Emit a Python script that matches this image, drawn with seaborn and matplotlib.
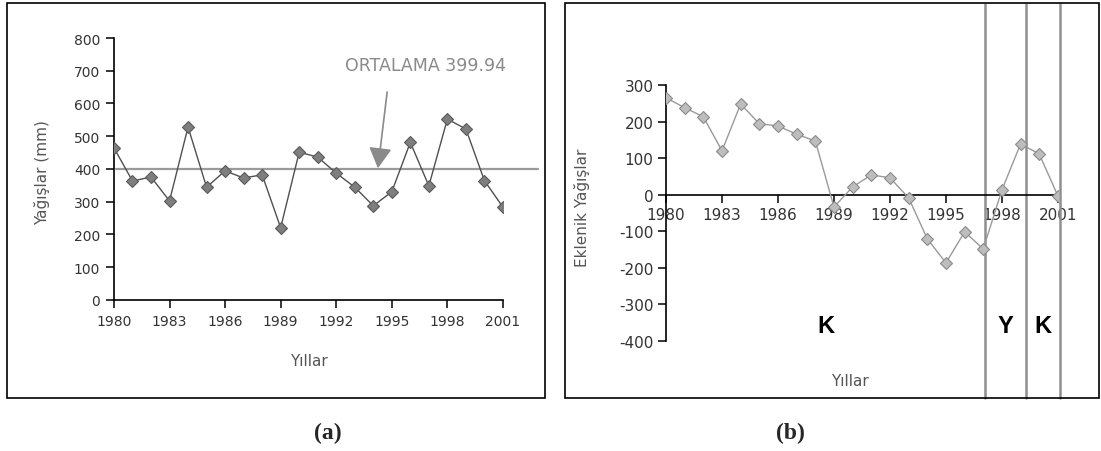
import numpy as np
import pandas as pd
import matplotlib
matplotlib.use("Agg")
import matplotlib.pyplot as plt
from matplotlib.patches import Rectangle
from matplotlib.transforms import blended_transform_factory
import seaborn as sns

# Annual precipitation (mm) and cumulative precipitation departures
years = list(range(1980, 2002))
rainfall = [464, 363, 375, 302, 528, 344, 394, 372, 382, 220, 451,
            436, 387, 344, 287, 330, 481, 348, 552, 522, 364, 283]
cumulative = [265, 238, 213, 120, 248, 194, 188, 165, 147, -34, 21,
              54, 46, -9, -121, -187, -102, -149, 13, 139, 111, -4]
mean_rainfall = 399.94
mean_label = "ORTALAMA 399.94"

xticks = [1980, 1983, 1986, 1989, 1992, 1995, 1998, 2001]
yticks_a = list(range(0, 801, 100))
yticks_b = list(range(-400, 301, 100))

# Dry (K) / wet (Y) periods and their boundaries
period_edges = [1980, 1997.1, 1999.3, 2001.1]
period_names = ["K", "Y", "K"]

sns.set_style("white")
plt.rcParams["font.family"] = ["DejaVu Sans"]
plt.rcParams["axes.unicode_minus"] = False

df = pd.DataFrame({"Yil": years, "Yagis": rainfall, "Eklenik": cumulative})

fig = plt.figure(figsize=(11.01, 4.52), dpi=100)

# Panel frames
for x0, w in [(0.00636, 0.4886), (0.5132, 0.4850)]:
    fig.add_artist(Rectangle((x0, 0.1173), w, 0.8739, transform=fig.transFigure,
                             fill=False, ec="black", lw=1.2))

# ---------------- (a) annual precipitation ----------------
ax1 = fig.add_axes([0.1035, 0.3347, 0.3533, 0.579])
ax1.axhline(mean_rainfall, xmin=0.005, xmax=1.09, color="#9a9a9a", lw=1.6,
            clip_on=False, zorder=1)
sns.lineplot(data=df, x="Yil", y="Yagis", ax=ax1, color="#505050", lw=1.0,
             marker="D", markersize=6, markerfacecolor="#7e7e7e",
             markeredgecolor="#5a5a5a", markeredgewidth=0.8, zorder=3)
ax1.set_xlim(1980, 2001)
ax1.set_ylim(0, 800)
ax1.set_xticks(xticks)
ax1.set_yticks(yticks_a)
for s in ["top", "right"]:
    ax1.spines[s].set_visible(False)
for s in ["left", "bottom"]:
    ax1.spines[s].set_color("black")
    ax1.spines[s].set_linewidth(1.2)
ax1.tick_params(axis="both", direction="out", length=6, width=1.1,
                color="black", labelsize=10, labelcolor="#333333",
                left=True, bottom=True, pad=4)
ax1.set_xlabel("Yıllar", fontsize=11, color="#555555")
ax1.set_ylabel("Yağışlar (mm)", fontsize=11, color="#555555")
ax1.xaxis.set_label_coords(0.5, -0.205)
ax1.yaxis.set_label_coords(-0.165, 0.49)

ax1.text(1992.5, 718, mean_label, fontsize=12.5, color="#8a8a8a",
         ha="left", va="center")
ax1.annotate("", xy=(1994.25, mean_rainfall + 2), xytext=(1994.75, 635),
             arrowprops=dict(arrowstyle="-|>,head_width=0.5,head_length=0.9",
                             color="#8a8a8a", lw=1.2, mutation_scale=14,
                             shrinkA=0, shrinkB=0))

# ---------------- (b) cumulative departures ----------------
ax2 = fig.add_axes([0.6049, 0.244, 0.356, 0.5657])
sns.lineplot(data=df, x="Yil", y="Eklenik", ax=ax2, color="#9a9a9a", lw=1.0,
             marker="D", markersize=6, markerfacecolor="#bdbdbd",
             markeredgecolor="#8a8a8a", markeredgewidth=0.8, zorder=3)
ax2.set_xlim(1980, 2001)
ax2.set_ylim(-400, 300)
ax2.set_xticks(xticks)
ax2.set_yticks(yticks_b)
for s in ["top", "right"]:
    ax2.spines[s].set_visible(False)
ax2.spines["bottom"].set_position(("data", 0))
for s in ["left", "bottom"]:
    ax2.spines[s].set_color("black")
    ax2.spines[s].set_linewidth(1.2)
ax2.tick_params(axis="both", direction="out", length=6, width=1.1,
                color="black", labelsize=11, labelcolor="#333333",
                left=True, bottom=True, pad=3)
ax2.set_xlabel("Yıllar", fontsize=11, color="#555555")
ax2.set_ylabel("Eklenik Yağışlar", fontsize=11, color="#555555")
ax2.xaxis.set_label_coords(0.469, -0.126)
ax2.yaxis.set_label_coords(-0.194, 0.523)

# Period boundaries spanning the whole frame
trans = blended_transform_factory(ax2.transData, fig.transFigure)
for xb in period_edges[1:]:
    ax2.plot([xb, xb], [0.1173, 0.9889], transform=trans, color="#8f8f8f",
             lw=1.8, clip_on=False, zorder=2)
for (a, b), name in zip(zip(period_edges[:-1], period_edges[1:]), period_names):
    ax2.text((a + b) / 2, -357, name, fontsize=17, fontweight="bold",
             family="Liberation Sans", ha="center", va="center", color="black")

# Panel captions
fig.text(328 / 1101, 1 - 433 / 452, "(a)", fontsize=17, fontweight="bold",
         family="Liberation Serif", ha="center", va="center")
fig.text(790 / 1101, 1 - 433 / 452, "(b)", fontsize=17, fontweight="bold",
         family="Liberation Serif", ha="center", va="center")

fig.savefig("out.png", dpi=100, facecolor="white")
